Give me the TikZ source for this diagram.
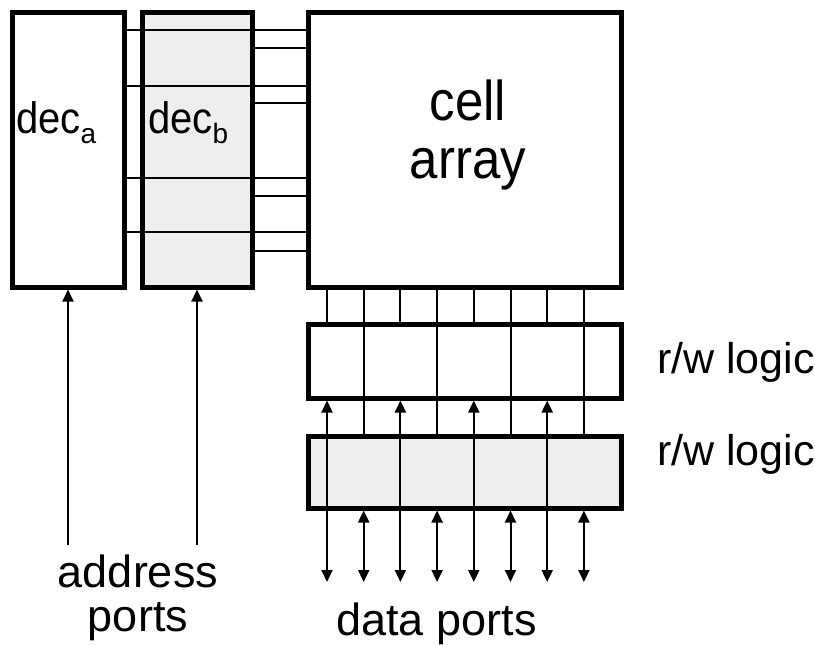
\documentclass[tikz,border=0pt]{standalone}
\usepackage{fontspec}
\newfontfamily\arialfont{Liberation Sans}
\usepackage{xcolor}
\usepackage{tikz}
\usetikzlibrary{arrows.meta, positioning}
\definecolor{decgrey}{HTML}{EEEEEE}
\newcommand{\tallword}[1]{\scalebox{1}[1.1]{#1}}

\begin{document}
\begin{tikzpicture}[
  x=1pt, y=-1pt,
  font=\arialfont,
  block/.style={
    draw=black,
    fill=white,
    line width=5pt,
    inner sep=0pt
  },
  greyblock/.style={
    block,
    fill=decgrey
  },
  wire/.style={
    draw=black,
    line width=2pt
  },
  sig/.style={
    draw=black,
    line width=2pt,
    -{Triangle[width=11pt,length=12pt]}
  },
  bisig/.style={
    draw=black,
    line width=2pt,
    {Triangle[width=11pt,length=12pt]}-{Triangle[width=11pt,length=12pt]}
  },
  lbl/.style={
    font=\arialfont\fontsize{45}{44}\selectfont,
    inner sep=0pt
  }
]

\useasboundingbox (0,0) rectangle (815,645);

% Decoders and cell array
\node[block, minimum width=112pt, minimum height=275pt] (deca) at (68,149.5) {};
\node[greyblock, minimum width=110pt, minimum height=275pt] (decb) at (197,149.5) {};
\node[block, minimum width=313pt, minimum height=275pt] (cells) at (464.5,149.5) {};

% Read/write logic
\node[block, minimum width=313pt, minimum height=74pt] (rwtop) at (464.5,361) {};
\node[greyblock, minimum width=313pt, minimum height=72pt] (rwbot) at (464.5,472) {};

% Word lines
\foreach \y in {30,86,178,232}
  \draw[wire] (deca.east |- 0,\y) -- (cells.west |- 0,\y);
\foreach \y in {48,103,196,251}
  \draw[wire] (decb.east |- 0,\y) -- (cells.west |- 0,\y);

% Bit lines, first port
\foreach \x [count=\i] in {327,400.4,473.8,547.2} {
  \coordinate (dpo\i) at (\x,582);
  \draw[wire] (cells.south -| dpo\i) -- (rwtop.north -| dpo\i);
  \draw[bisig] (dpo\i) -- (rwtop.south -| dpo\i);
}

% Bit lines, second port
\foreach \x [count=\i] in {363.7,437.1,510.5,583.9} {
  \coordinate (dpe\i) at (\x,582);
  \draw[wire] (cells.south -| dpe\i) -- (rwbot.north -| dpe\i);
  \draw[bisig] (dpe\i) -- (rwbot.south -| dpe\i);
}

% Address inputs
\coordinate (addra) at (68,545);
\coordinate (addrb) at (197,545);
\draw[sig] (addra) -- (deca.south);
\draw[sig] (addrb) -- (decb.south);

% Labels
\node[anchor=base west, inner sep=0pt, font=\arialfont\fontsize{40}{40}\selectfont] (decalbl) at (16,133)
{\tallword{dec}\raisebox{-10pt}{\fontsize{28}{28}\selectfont a}};

\node[anchor=base west, inner sep=0pt, font=\arialfont\fontsize{40}{40}\selectfont] (decblbl) at (148,133)
{\tallword{dec}\raisebox{-10pt}{\fontsize{28}{28}\selectfont b}};

\node[align=center, inner sep=0pt, font=\arialfont\fontsize{51}{58}\selectfont] (celllbl) at (468,134.5)
{\tallword{cell}\\\tallword{array}};

\node[lbl, anchor=base west, font=\arialfont\fontsize{43}{43}\selectfont] (rwtoplbl) at (657,373)
{r/w logic};

\node[lbl, anchor=base west, font=\arialfont\fontsize{43}{43}\selectfont] (rwbotlbl) at (657,465)
{r/w logic};

\node[lbl, align=center] (addrlbl) at (138,598)
{address\\ports};

\node[lbl, anchor=base] (datalbl) at (436.5,635)
{data ports};

\end{tikzpicture}
\end{document}
